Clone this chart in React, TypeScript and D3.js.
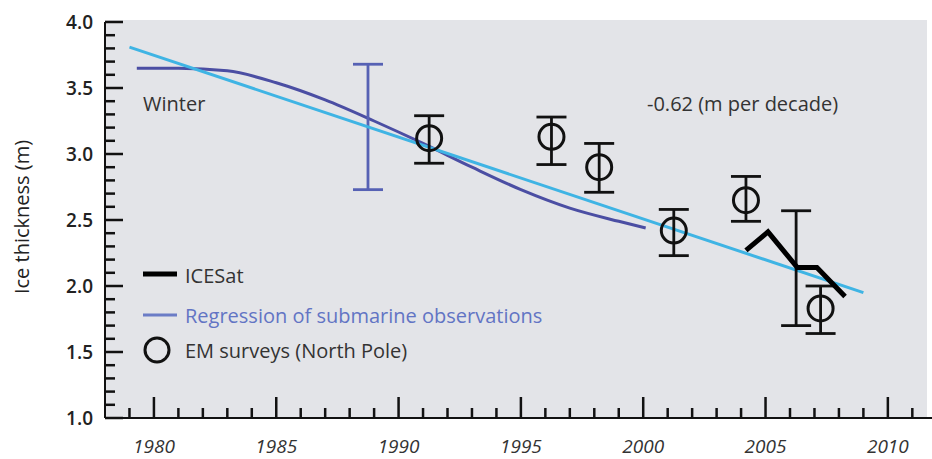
import React, { useEffect, useRef } from "react";
import * as d3 from "d3";

// submarine regression curve (year, thickness)
const subYears = [1979.3, 1981, 1983, 1985, 1987, 1989, 1991, 1993, 1995, 1997, 1999, 2000.1];
const subValues = [3.65, 3.65, 3.63, 3.54, 3.41, 3.25, 3.08, 2.9, 2.73, 2.59, 2.49, 2.44];

// submarine uncertainty bar
const subErr = { year: 1988.75, lo: 2.73, hi: 3.68 };

// linear fit, -0.62 m per decade
const fitYears = [1979, 2009];
const fitValues = [3.81, 1.95];

// EM surveys at the North Pole
const emYears = [1991.25, 1996.25, 1998.2, 2001.25, 2004.2, 2007.25];
const emValues = [3.12, 3.13, 2.9, 2.42, 2.65, 1.83];
const emLow = [2.93, 2.92, 2.71, 2.23, 2.49, 1.64];
const emHigh = [3.29, 3.28, 3.08, 2.58, 2.83, 2.0];

// ICESat
const iceYears = [2004.2, 2005.1, 2006.3, 2007.1, 2008.25];
const iceValues = [2.27, 2.41, 2.14, 2.14, 1.92];
const iceErr = { year: 2006.25, lo: 1.7, hi: 2.57 };

const yTicks = [1.0, 1.5, 2.0, 2.5, 3.0, 3.5, 4.0];
const xTicks = [1980, 1985, 1990, 1995, 2000, 2005, 2010];

const W = 932;
const H = 459;
const FONT = "'Open Sans', Lato, sans-serif";

const App: React.FC = () => {
  const ref = useRef<SVGSVGElement | null>(null);

  useEffect(() => {
    if (!ref.current) return;
    const svg = d3.select(ref.current);
    svg.selectAll("*").remove();

    const x = d3.scaleLinear().domain([1978, 2011.6]).range([105, 927]);
    const y = d3.scaleLinear().domain([1, 4]).range([418, 22]);

    // panel background
    svg
      .append("rect")
      .attr("x", x(1978))
      .attr("y", 20)
      .attr("width", x(2011.6) - x(1978))
      .attr("height", y(1) - 20)
      .attr("fill", "#e3e4e8");

    // y axis ticks (inside)
    const yMinor = d3.range(10, 41).map((d) => d / 10);
    svg
      .append("g")
      .selectAll("line")
      .data(yMinor)
      .enter()
      .append("line")
      .attr("x1", x(1978))
      .attr("x2", (d) => x(1978) + (Math.abs(d * 2 - Math.round(d * 2)) < 1e-6 ? 18 : 10))
      .attr("y1", (d) => y(d))
      .attr("y2", (d) => y(d))
      .attr("stroke", "#111")
      .attr("stroke-width", 2.5);

    svg
      .append("line")
      .attr("x1", x(1978))
      .attr("x2", x(1978))
      .attr("y1", y(4))
      .attr("y2", y(1))
      .attr("stroke", "#111")
      .attr("stroke-width", 2);

    svg
      .append("g")
      .selectAll("text")
      .data(yTicks)
      .enter()
      .append("text")
      .attr("x", 93)
      .attr("y", (d) => y(d) + 7)
      .attr("text-anchor", "end")
      .attr("font-family", FONT)
      .attr("font-size", 19)
      .attr("font-weight", 600)
      .attr("fill", "#222")
      .text((d) => d.toFixed(1));

    // x axis
    const xMinor = d3.range(1979, 2012);
    svg
      .append("g")
      .selectAll("line")
      .data(xMinor)
      .enter()
      .append("line")
      .attr("x1", (d) => x(d))
      .attr("x2", (d) => x(d))
      .attr("y1", y(1))
      .attr("y2", (d) => y(1) - (d % 5 === 0 ? 21 : 10))
      .attr("stroke", "#111")
      .attr("stroke-width", 2.5);

    svg
      .append("line")
      .attr("x1", x(1978))
      .attr("x2", W)
      .attr("y1", y(1))
      .attr("y2", y(1))
      .attr("stroke", "#111")
      .attr("stroke-width", 2);

    svg
      .append("g")
      .selectAll("text")
      .data(xTicks)
      .enter()
      .append("text")
      .attr("x", (d) => x(d))
      .attr("y", 453)
      .attr("text-anchor", "middle")
      .attr("font-family", FONT)
      .attr("font-size", 19)
      .attr("font-style", "italic")
      .attr("fill", "#333")
      .text((d) => d);

    svg
      .append("text")
      .attr("transform", `translate(29,${217}) rotate(-90)`)
      .attr("text-anchor", "middle")
      .attr("font-family", FONT)
      .attr("font-size", 20)
      .attr("fill", "#222")
      .text("Ice thickness (m)");

    // submarine curve
    const line = d3
      .line<[number, number]>()
      .x((d) => x(d[0]))
      .y((d) => y(d[1]));

    svg
      .append("path")
      .attr("d", line.curve(d3.curveMonotoneX)(subYears.map((t, i) => [t, subValues[i]]))!)
      .attr("fill", "none")
      .attr("stroke", "#4b4ea3")
      .attr("stroke-width", 3);

    // error bar helper
    const errBar = (
      ex: number,
      lo: number,
      hi: number,
      color: string,
      half: number
    ) => {
      const g = svg.append("g").attr("stroke", color).attr("stroke-width", 2.8);
      g.append("line").attr("x1", x(ex)).attr("x2", x(ex)).attr("y1", y(lo)).attr("y2", y(hi));
      [lo, hi].forEach((v) =>
        g
          .append("line")
          .attr("x1", x(ex) - half)
          .attr("x2", x(ex) + half)
          .attr("y1", y(v))
          .attr("y2", y(v))
      );
    };
    errBar(subErr.year, subErr.lo, subErr.hi, "#5661b4", 15);

    // fit line
    svg
      .append("path")
      .attr("d", line.curve(d3.curveLinear)(fitYears.map((t, i) => [t, fitValues[i]]))!)
      .attr("fill", "none")
      .attr("stroke", "#3fb4e4")
      .attr("stroke-width", 3);

    // EM surveys
    emYears.forEach((t, i) => {
      errBar(t, emLow[i], emHigh[i], "#111", 15);
    });
    svg
      .append("g")
      .selectAll("circle")
      .data(emYears)
      .enter()
      .append("circle")
      .attr("cx", (d) => x(d))
      .attr("cy", (d, i) => y(emValues[i]))
      .attr("r", 12.5)
      .attr("fill", "none")
      .attr("stroke", "#111")
      .attr("stroke-width", 3);

    // ICESat
    errBar(iceErr.year, iceErr.lo, iceErr.hi, "#111", 15);
    svg
      .append("path")
      .attr("d", line.curve(d3.curveLinear)(iceYears.map((t, i) => [t, iceValues[i]]))!)
      .attr("fill", "none")
      .attr("stroke", "#000")
      .attr("stroke-width", 5)
      .attr("stroke-linejoin", "miter");

    // annotations
    const label = (tx: number, ty: number, s: string, fill = "#333") =>
      svg
        .append("text")
        .attr("x", tx)
        .attr("y", ty)
        .attr("font-family", FONT)
        .attr("font-size", 20)
        .attr("fill", fill)
        .text(s);

    label(143, 111, "Winter");
    label(647, 111, "-0.62 (m per decade)");

    // legend
    svg.append("line").attr("x1", 143).attr("x2", 177).attr("y1", 274).attr("y2", 274)
      .attr("stroke", "#000").attr("stroke-width", 5);
    label(185, 283, "ICESat");
    svg.append("line").attr("x1", 143).attr("x2", 177).attr("y1", 315).attr("y2", 315)
      .attr("stroke", "#6b7cc6").attr("stroke-width", 3);
    label(185, 323, "Regression of submarine observations", "#6274c4");
    svg.append("circle").attr("cx", 157).attr("cy", 350).attr("r", 12)
      .attr("fill", "none").attr("stroke", "#111").attr("stroke-width", 3);
    label(185, 358, "EM surveys (North Pole)");
  }, []);

  return (
    <svg
      ref={ref}
      width={W}
      height={H}
      style={{ position: "absolute", left: 0, top: 0, background: "#fff" }}
    ></svg>
  );
};

export default App;
